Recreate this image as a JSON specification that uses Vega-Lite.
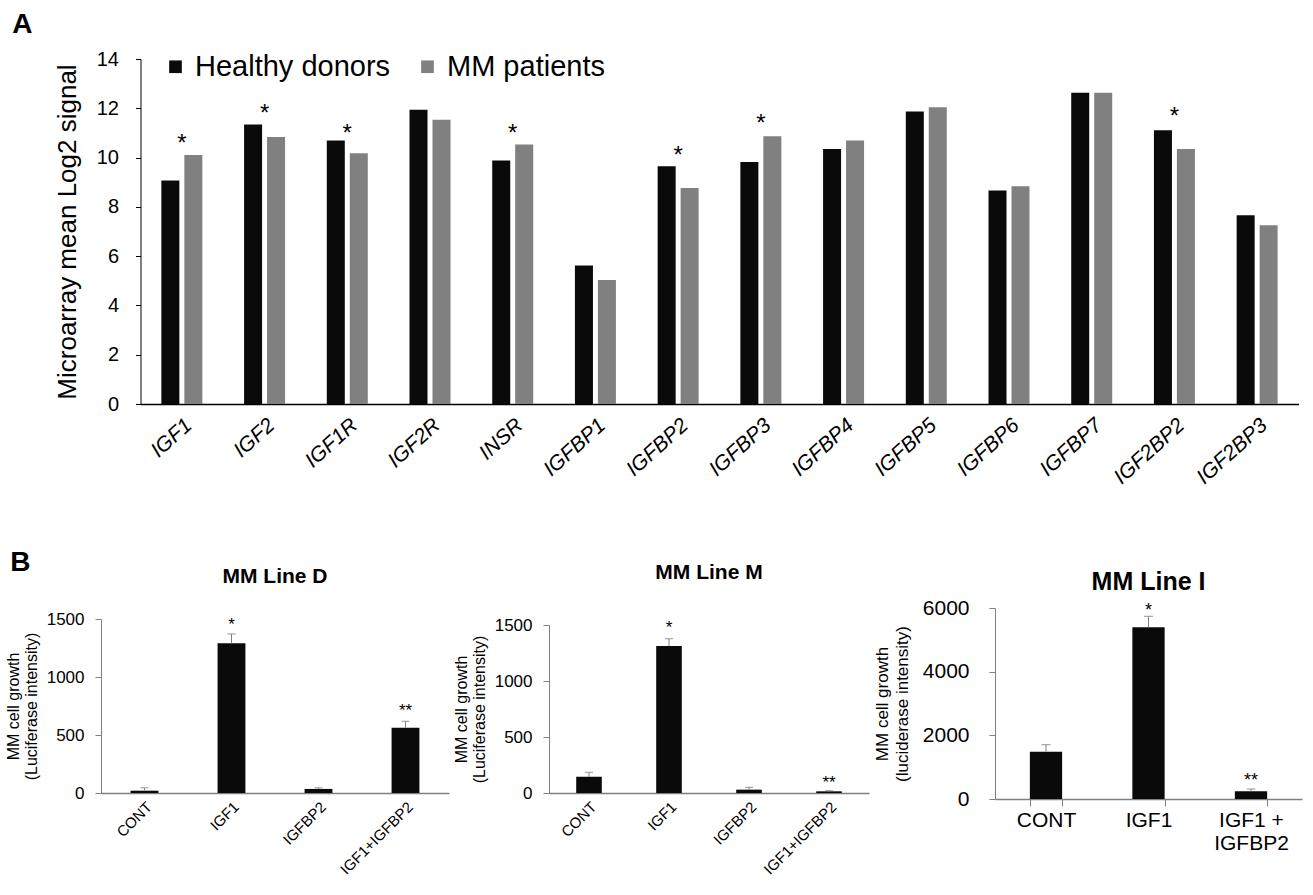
{
  "$schema": "https://vega.github.io/schema/vega-lite/v6.json",
  "background": "white",
  "padding": {"left": 5, "top": 11, "right": 5, "bottom": 2},
  "config": {
    "font": "Liberation Sans",
    "view": {"stroke": null},
    "axis": {"grid": false, "labelColor": "black", "titleColor": "black", "domainColor": "black", "tickColor": "black", "titleFontWeight": "normal", "labelFont": "Liberation Sans", "titleFont": "Liberation Sans"},
    "title": {"font": "Liberation Sans", "color": "black"}
  },
  "columns": 1,
  "align": "none",
  "spacing": 61,
  "concat": [
    {
      "width": 1198,
      "height": 345,
      "title": {"text": "A", "anchor": "start", "frame": "bounds", "fontSize": 28, "fontWeight": "bold", "dx": -42, "offset": 10},
      "layer": [
        {
          "data": {"values": [
            {"gene": "IGF1", "group": "Healthy donors", "value": 9.07},
            {"gene": "IGF1", "group": "MM patients", "value": 10.1},
            {"gene": "IGF2", "group": "Healthy donors", "value": 11.34},
            {"gene": "IGF2", "group": "MM patients", "value": 10.83},
            {"gene": "IGF1R", "group": "Healthy donors", "value": 10.69},
            {"gene": "IGF1R", "group": "MM patients", "value": 10.18},
            {"gene": "IGF2R", "group": "Healthy donors", "value": 11.94},
            {"gene": "IGF2R", "group": "MM patients", "value": 11.53},
            {"gene": "INSR", "group": "Healthy donors", "value": 9.88},
            {"gene": "INSR", "group": "MM patients", "value": 10.53},
            {"gene": "IGFBP1", "group": "Healthy donors", "value": 5.62},
            {"gene": "IGFBP1", "group": "MM patients", "value": 5.03},
            {"gene": "IGFBP2", "group": "Healthy donors", "value": 9.65},
            {"gene": "IGFBP2", "group": "MM patients", "value": 8.77},
            {"gene": "IGFBP3", "group": "Healthy donors", "value": 9.82},
            {"gene": "IGFBP3", "group": "MM patients", "value": 10.87},
            {"gene": "IGFBP4", "group": "Healthy donors", "value": 10.35},
            {"gene": "IGFBP4", "group": "MM patients", "value": 10.69},
            {"gene": "IGFBP5", "group": "Healthy donors", "value": 11.87},
            {"gene": "IGFBP5", "group": "MM patients", "value": 12.04},
            {"gene": "IGFBP6", "group": "Healthy donors", "value": 8.66},
            {"gene": "IGFBP6", "group": "MM patients", "value": 8.84},
            {"gene": "IGFBP7", "group": "Healthy donors", "value": 12.63},
            {"gene": "IGFBP7", "group": "MM patients", "value": 12.63},
            {"gene": "IGF2BP2", "group": "Healthy donors", "value": 11.11},
            {"gene": "IGF2BP2", "group": "MM patients", "value": 10.35},
            {"gene": "IGF2BP3", "group": "Healthy donors", "value": 7.66},
            {"gene": "IGF2BP3", "group": "MM patients", "value": 7.25}
          ]},
          "mark": {"type": "bar"},
          "encoding": {
            "x": {"field": "gene", "type": "nominal", "sort": null,
                  "scale": {"paddingInner": 0, "paddingOuter": 0, "range": [39.5, 1197.5]},
                  "axis": {"title": null, "labelAngle": -42, "labelFontStyle": "italic", "labelFontSize": 21, "ticks": false, "labelPadding": 10, "domainWidth": 1.5}},
            "xOffset": {"field": "group", "sort": ["Healthy donors", "MM patients"], "scale": {"paddingInner": 0.216, "paddingOuter": 0.908}},
            "y": {"field": "value", "type": "quantitative", "scale": {"domain": [0, 14], "nice": false},
                  "axis": {"offset": -39.5, "title": "Microarray mean Log2 signal", "titleFontSize": 26, "labelFontSize": 20, "values": [0, 2, 4, 6, 8, 10, 12, 14], "tickSize": 5, "titlePadding": 16, "labelPadding": 17}},
            "color": {"field": "group", "type": "nominal",
                      "scale": {"domain": ["Healthy donors", "MM patients"], "range": ["#0a0a0a", "#808080"]},
                      "legend": {"title": null, "orient": "none", "legendX": 60, "legendY": -7, "direction": "horizontal", "symbolType": "square", "symbolSize": 160, "labelFontSize": 29, "labelLimit": 0, "columnPadding": 22, "labelOffset": 5, "symbolStrokeWidth": 0}}
          }
        },
        {
          "data": {"values": [
            {"gene": "IGF1", "pos": 10.8},
            {"gene": "IGF2", "pos": 12.0},
            {"gene": "IGF1R", "pos": 11.2},
            {"gene": "INSR", "pos": 11.2},
            {"gene": "IGFBP2", "pos": 10.3},
            {"gene": "IGFBP3", "pos": 11.6},
            {"gene": "IGF2BP2", "pos": 11.9}
          ]},
          "mark": {"type": "text", "text": "*", "fontSize": 24, "baseline": "middle", "dy": 6, "color": "black"},
          "encoding": {
            "x": {"field": "gene", "type": "nominal", "sort": null},
            "y": {"field": "pos", "type": "quantitative", "scale": {"domain": [0, 14], "nice": false}}
          }
        }
      ]
    },
    {
      "title": {"text": "B", "anchor": "start", "frame": "bounds", "fontSize": 28, "fontWeight": "bold", "offset": -15, "dx": 5},
      "columns": 3,
      "align": "none",
      "spacing": 4,
      "concat": [
        {
          "width": 348,
          "height": 174,
          "title": {"text": "MM Line D", "fontSize": 21, "fontWeight": "bold", "offset": 23},
          "data": {"values": [
            {"cond": "CONT", "v": 20, "hi": 45, "star": "", "sy": 0},
            {"cond": "IGF1", "v": 1290, "hi": 1371, "star": "*", "sy": 1491},
            {"cond": "IGFBP2", "v": 35, "hi": 45, "star": "", "sy": 0},
            {"cond": "IGF1+IGFBP2", "v": 563, "hi": 618, "star": "**", "sy": 753}
          ]},
          "encoding": {
            "x": {"field": "cond", "type": "nominal", "sort": null,
                  "scale": {"paddingInner": 0.68, "paddingOuter": 0.34},
                  "axis": {"title": null, "labelAngle": -45, "labelFontSize": 15, "ticks": false, "domainColor": "#808080", "domainWidth": 1.5, "labelPadding": 6}}
          },
          "layer": [
            {"mark": {"type": "bar", "color": "#0a0a0a"},
             "encoding": {"y": {"field": "v", "type": "quantitative", "scale": {"domain": [0, 1500], "nice": false, "padding": 0},
               "axis": {"title": ["MM cell growth", "(Luciferase intensity)"], "titleFontSize": 16, "titleLineHeight": 18, "labelFontSize": 17, "format": "d", "values": [0, 500, 1000, 1500], "tickSize": 6, "domainColor": "#808080", "tickColor": "#808080", "titlePadding": 7, "labelPadding": 11}}}},
            {"mark": {"type": "rule", "color": "#808080"},
             "encoding": {"y": {"field": "v", "type": "quantitative", "scale": {"domain": [0, 1500], "nice": false}}, "y2": {"field": "hi"}}},
            {"mark": {"type": "tick", "color": "#808080", "size": 8, "thickness": 1.2, "orient": "horizontal"},
             "encoding": {"y": {"field": "hi", "type": "quantitative", "scale": {"domain": [0, 1500], "nice": false}}}},
            {"mark": {"type": "text", "fontSize": 17, "dy": 5, "baseline": "middle", "color": "black"},
             "encoding": {"y": {"field": "sy", "type": "quantitative", "scale": {"domain": [0, 1500], "nice": false}}, "text": {"field": "star"}}}
          ]
        },
        {
          "width": 320,
          "height": 174,
          "title": {"text": "MM Line M", "fontSize": 21, "fontWeight": "bold", "offset": 33},
          "data": {"values": [
            {"cond": "CONT", "v": 146, "hi": 184, "star": "", "sy": 0},
            {"cond": "IGF1", "v": 1313, "hi": 1378, "star": "*", "sy": 1520},
            {"cond": "IGFBP2", "v": 30, "hi": 50, "star": "", "sy": 0},
            {"cond": "IGF1+IGFBP2", "v": 15, "hi": 21, "star": "**", "sy": 130}
          ]},
          "encoding": {
            "x": {"field": "cond", "type": "nominal", "sort": null,
                  "scale": {"paddingInner": 0.68, "paddingOuter": 0.34},
                  "axis": {"title": null, "labelAngle": -45, "labelFontSize": 15, "ticks": false, "domainColor": "#808080", "domainWidth": 1.5, "labelPadding": 6}}
          },
          "layer": [
            {"mark": {"type": "bar", "color": "#0a0a0a"},
             "encoding": {"y": {"field": "v", "type": "quantitative", "scale": {"domain": [0, 1500], "nice": false, "padding": 0, "range": [174, 6]},
               "axis": {"title": ["MM cell growth", "(Luciferase intensity)"], "titleFontSize": 16, "titleLineHeight": 18, "labelFontSize": 17, "format": "d", "values": [0, 500, 1000, 1500], "tickSize": 6, "domainColor": "#808080", "tickColor": "#808080", "titlePadding": 7, "labelPadding": 11}}}},
            {"mark": {"type": "rule", "color": "#808080"},
             "encoding": {"y": {"field": "v", "type": "quantitative", "scale": {"domain": [0, 1500], "nice": false}}, "y2": {"field": "hi"}}},
            {"mark": {"type": "tick", "color": "#808080", "size": 8, "thickness": 1.2, "orient": "horizontal"},
             "encoding": {"y": {"field": "hi", "type": "quantitative", "scale": {"domain": [0, 1500], "nice": false}}}},
            {"mark": {"type": "text", "fontSize": 17, "dy": 5, "baseline": "middle", "color": "black"},
             "encoding": {"y": {"field": "sy", "type": "quantitative", "scale": {"domain": [0, 1500], "nice": false}}, "text": {"field": "star"}}}
          ]
        },
        {
          "width": 307,
          "height": 180,
          "title": {"text": "MM Line I", "fontSize": 25, "fontWeight": "bold", "offset": 2},
          "data": {"values": [
            {"cond": "CONT", "v": 1487, "hi": 1707, "star": "", "sy": 0},
            {"cond": "IGF1", "v": 5393, "hi": 5738, "star": "*", "sy": 6073},
            {"cond": "IGF1 + IGFBP2", "v": 241, "hi": 314, "star": "**", "sy": 712}
          ]},
          "encoding": {
            "x": {"field": "cond", "type": "nominal", "sort": null,
                  "scale": {"paddingInner": 0.685, "paddingOuter": 0.34},
                  "axis": {"title": null, "labelAngle": 0, "labelFontSize": 21, "ticks": true, "tickBand": "extent", "tickSize": 7, "tickColor": "#808080", "domainColor": "#808080", "domainWidth": 1.5, "labelPadding": 3, "labelLineHeight": 23,
                           "labelExpr": "datum.label === 'IGF1 + IGFBP2' ? ['IGF1 +', 'IGFBP2'] : datum.label"}}
          },
          "layer": [
            {"mark": {"type": "bar", "color": "#0a0a0a"},
             "encoding": {"y": {"field": "v", "type": "quantitative", "scale": {"domain": [0, 6000], "nice": false, "padding": 0, "range": [180, -11]},
               "axis": {"title": ["MM cell growth", "(luciderase intensity)"], "titleFontSize": 17, "titleLineHeight": 20, "labelFontSize": 21, "format": "d", "values": [0, 2000, 4000, 6000], "tickSize": 6, "domainColor": "#808080", "tickColor": "#808080", "titlePadding": 11, "labelPadding": 20}}}},
            {"mark": {"type": "rule", "color": "#808080"},
             "encoding": {"y": {"field": "v", "type": "quantitative", "scale": {"domain": [0, 6000], "nice": false}}, "y2": {"field": "hi"}}},
            {"mark": {"type": "tick", "color": "#808080", "size": 9, "thickness": 1.2, "orient": "horizontal"},
             "encoding": {"y": {"field": "hi", "type": "quantitative", "scale": {"domain": [0, 6000], "nice": false}}}},
            {"mark": {"type": "text", "fontSize": 18, "dy": 5, "baseline": "middle", "color": "black"},
             "encoding": {"y": {"field": "sy", "type": "quantitative", "scale": {"domain": [0, 6000], "nice": false}}, "text": {"field": "star"}}}
          ]
        }
      ]
    }
  ]
}
